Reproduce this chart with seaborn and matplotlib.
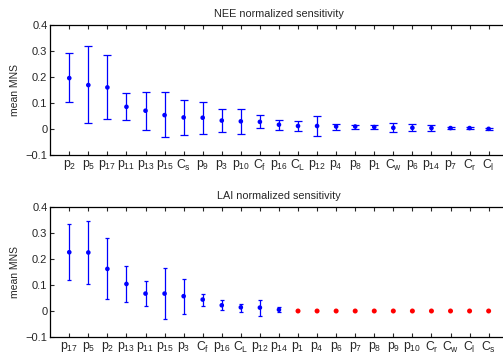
import numpy as np
import pandas as pd
import seaborn as sns
import matplotlib.pyplot as plt

# NEE panel (sorted by mean MNS)
nee_names = ["p_{2}", "p_{5}", "p_{17}", "p_{11}", "p_{13}", "p_{15}", "C_{s}", "p_{9}",
             "p_{3}", "p_{10}", "C_{f}", "p_{16}", "C_{L}", "p_{12}", "p_{4}", "p_{8}",
             "p_{1}", "C_{w}", "p_{6}", "p_{14}", "p_{7}", "C_{r}", "C_{l}"]
nee_mean = [0.197, 0.170, 0.161, 0.086, 0.071, 0.054, 0.045, 0.044, 0.033, 0.030, 0.028,
            0.017, 0.012, 0.012, 0.010, 0.010, 0.008, 0.005, 0.005, 0.004, 0.004, 0.004, 0.001]
nee_lo = [0.103, 0.022, 0.039, 0.036, -0.004, -0.032, -0.022, -0.017, -0.012, -0.018, 0.003,
          -0.003, -0.008, -0.027, -0.003, 0.001, 0.0, -0.012, -0.009, -0.006, -0.001, -0.001, -0.003]
nee_hi = [0.292, 0.320, 0.287, 0.138, 0.145, 0.143, 0.112, 0.104, 0.078, 0.076, 0.053,
          0.035, 0.031, 0.049, 0.021, 0.015, 0.015, 0.022, 0.019, 0.014, 0.009, 0.009, 0.006]

# LAI panel; the last 11 parameters have zero sensitivity (red)
lai_names = ["p_{17}", "p_{5}", "p_{2}", "p_{13}", "p_{11}", "p_{15}", "p_{3}", "C_{f}",
             "p_{16}", "C_{L}", "p_{12}", "p_{14}", "p_{1}", "p_{4}", "p_{6}", "p_{7}",
             "p_{8}", "p_{9}", "p_{10}", "C_{r}", "C_{w}", "C_{l}", "C_{s}"]
lai_mean = [0.226, 0.225, 0.162, 0.104, 0.067, 0.067, 0.057, 0.044, 0.022, 0.014, 0.013,
            0.005, 0, 0, 0, 0, 0, 0, 0, 0, 0, 0, 0]
lai_lo = [0.118, 0.103, 0.045, 0.033, 0.018, -0.031, -0.010, 0.019, 0.003, -0.003, -0.018,
          -0.004, 0, 0, 0, 0, 0, 0, 0, 0, 0, 0, 0]
lai_hi = [0.334, 0.346, 0.280, 0.175, 0.117, 0.165, 0.123, 0.066, 0.042, 0.028, 0.041,
          0.015, 0, 0, 0, 0, 0, 0, 0, 0, 0, 0, 0]
lai_zero = [False] * 12 + [True] * 11

sns.set_style("white")
plt.rcParams["font.family"] = ["Liberation Sans", "DejaVu Sans"]
plt.rcParams["mathtext.fontset"] = "custom"
plt.rcParams["mathtext.rm"] = "Liberation Sans"
plt.rcParams["mathtext.it"] = "Liberation Sans:italic"

fig = plt.figure(figsize=(5.03, 3.55), dpi=100)
ax1 = fig.add_axes([50.2 / 503, 1 - 155 / 355, 457.5 / 503, 129.5 / 355])
ax2 = fig.add_axes([50.2 / 503, 1 - 337 / 355, 457.5 / 503, 130 / 355])


def panel(ax, names, mean, lo, hi, zero, title, cap):
    df = pd.DataFrame({"pos": np.arange(1, len(names) + 1), "mean": mean,
                       "lo": lo, "hi": hi, "zero": zero})
    err = df[~df["zero"]]
    ax.errorbar(err["pos"], err["mean"], yerr=[err["mean"] - err["lo"], err["hi"] - err["mean"]],
                fmt="none", ecolor="#0000ff", elinewidth=0.9, capsize=cap, capthick=0.9)
    sns.scatterplot(data=err, x="pos", y="mean", color="#0000ff", s=11,
                    edgecolor="none", ax=ax, zorder=3)
    if df["zero"].any():
        sns.scatterplot(data=df[df["zero"]], x="pos", y="mean", color="#ff0000", s=13,
                        edgecolor="none", ax=ax, zorder=3)
    ax.set_xlim(0, 24)
    ax.set_ylim(-0.1, 0.4)
    ax.set_xticks(df["pos"])
    ax.set_xticklabels([r"$\mathrm{" + n + "}$" for n in names], fontsize=8.8)
    ax.set_yticks([-0.1, 0, 0.1, 0.2, 0.3, 0.4])
    ax.set_yticklabels(["\u22120.1", "0", "0.1", "0.2", "0.3", "0.4"], fontsize=8)
    ax.tick_params(direction="in", length=3, width=0.8, pad=2,
                   bottom=True, top=True, left=True, right=True)
    ax.set_xlabel("")
    ax.set_ylabel("mean MNS", fontsize=7.5, labelpad=4)
    ax.set_title(title, fontsize=7.8, pad=6)
    for s in ax.spines.values():
        s.set_color("black")
        s.set_linewidth(0.9)


panel(ax1, nee_names, nee_mean, nee_lo, nee_hi, [False] * 23, "NEE normalized sensitivity", 3)
panel(ax2, lai_names, lai_mean, lai_lo, lai_hi, lai_zero, "LAI normalized sensitivity", 1.6)

fig.savefig("out.png", dpi=100)
